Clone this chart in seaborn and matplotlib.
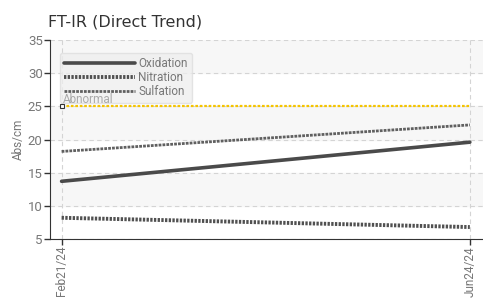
import numpy as np
import pandas as pd
import matplotlib
matplotlib.use("Agg")
import matplotlib.pyplot as plt
import seaborn as sns

# data
dates = pd.to_datetime(["2024-02-21", "2024-06-24"])
date_labels = ["Feb21/24", "Jun24/24"]
oxidation = [13.7, 19.6]
nitration = [8.2, 6.8]
sulfation = [18.2, 22.2]
abnormal = 25

sns.set_style("white")
plt.rcParams["font.family"] = ["DejaVu Sans"]
narrow = "Roboto"

fig, ax = plt.subplots(figsize=(4.83, 3.01), dpi=100)
fig.subplots_adjust(left=0.103, right=1.0, top=0.867, bottom=0.206)

# alternating bands
for lo in [10, 20, 30]:
    ax.axhspan(lo, lo + 5, color="#f7f7f7", zorder=0)

df = pd.DataFrame({"date": dates, "Oxidation": oxidation,
                   "Nitration": nitration, "Sulfation": sulfation})

sns.lineplot(data=df, x="date", y="Oxidation", ax=ax, color="#4a4a4a",
             lw=2.6, label="Oxidation", zorder=3)
sns.lineplot(data=df, x="date", y="Nitration", ax=ax, color="#505050",
             lw=2.8, linestyle=(0, (0.6, 0.35)), label="Nitration", zorder=3)
sns.lineplot(data=df, x="date", y="Sulfation", ax=ax, color="#606060",
             lw=2.0, linestyle=(0, (1.0, 0.4)), label="Sulfation", zorder=3)

# abnormal limit
ax.plot(dates, [abnormal, abnormal], color="#f5c400", lw=1.6,
        linestyle=(0, (1.2, 0.8)), zorder=2)
ax.plot(dates[:1], [abnormal], marker="s", ms=3.5, mfc="white", mec="#333333",
        mew=0.8, zorder=6, clip_on=False)
ax.text(dates[0] + pd.Timedelta(days=0.5), abnormal + 0.1, "Abnormal",
        color="#aaaaaa", fontsize=8.5, family=narrow,
        va="bottom", zorder=6)

ax.set_xlim(dates[0] - pd.Timedelta(days=3.6), dates[1] + pd.Timedelta(days=4))
ax.set_ylim(5, 35)
ax.set_yticks(range(5, 36, 5))
ax.set_xticks(dates)
ax.set_xticklabels(date_labels, rotation=90, family=narrow,
                   fontsize=8.5, color="#777777")
for t in ax.get_yticklabels():
    t.set_family(narrow)
    t.set_fontsize(9.5)
    t.set_color("#777777")

ax.grid(True, color="#d4d4d4", linestyle=(0, (4, 3)), lw=0.8)
ax.set_axisbelow(True)
for s in ["top", "right"]:
    ax.spines[s].set_visible(False)
ax.spines["left"].set_color("#333333")
ax.spines["bottom"].set_color("#333333")
ax.tick_params(axis="both", length=4, width=1, color="#333333", pad=1,
               direction="out", bottom=True, left=True)

ax.set_xlabel("")
ax.set_ylabel("Abs/cm", family=narrow, fontsize=8.5,
              color="#777777", labelpad=2)

ax.set_title("FT-IR (Direct Trend)", loc="left", fontsize=11.5, color="#333333",
             x=-0.005, pad=10)

leg = ax.legend(loc="upper left", bbox_to_anchor=(0.01, 0.965), frameon=True,
                fancybox=True, facecolor="#eeeeee", edgecolor="#dddddd",
                framealpha=0.75, handlelength=6.0, handletextpad=0.3,
                borderpad=0.35, labelspacing=0.1,
                prop={"family": narrow, "size": 8.5})
leg.set_zorder(5)
for t in leg.get_texts():
    t.set_color("#777777")

fig.savefig("out.png", dpi=100)
